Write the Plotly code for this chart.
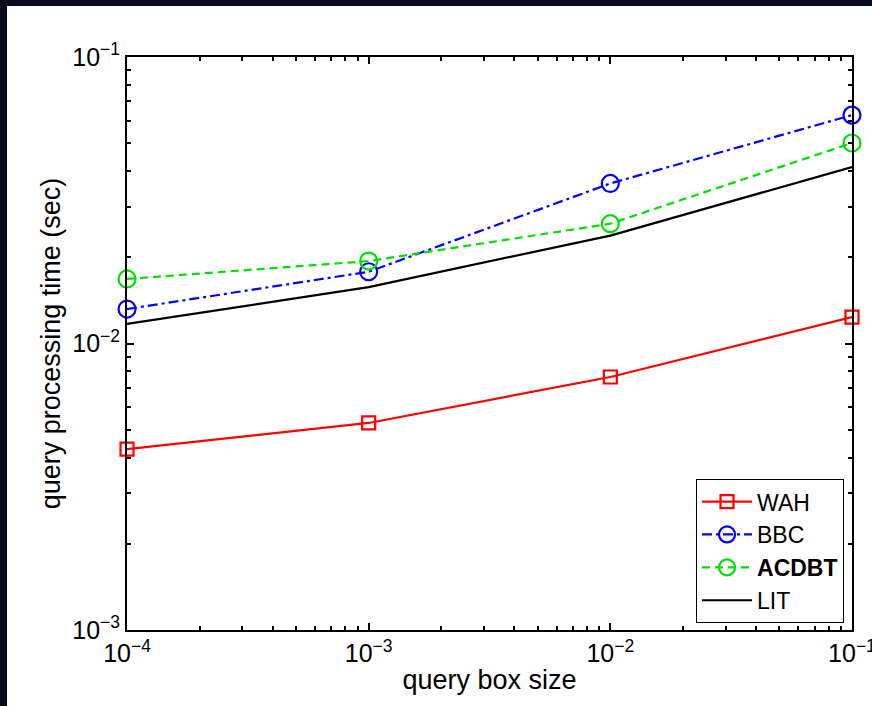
import plotly.graph_objects as go

box_size = [1e-4, 1e-3, 1e-2, 1e-1]
wah = [4.28e-3, 5.28e-3, 7.64e-3, 1.237e-2]
bbc = [1.319e-2, 1.78e-2, 3.62e-2, 6.27e-2]
acdbt = [1.68e-2, 1.94e-2, 2.62e-2, 5.01e-2]
lit = [1.17e-2, 1.574e-2, 2.38e-2, 4.13e-2]

x_tickvals = [1e-4, 1e-3, 1e-2, 1e-1]
x_ticktext = ["10<sup>−4</sup>", "10<sup>−3</sup>", "10<sup>−2</sup>", "10<sup>−1</sup>"]
y_tickvals = [1e-3, 1e-2, 1e-1]
y_ticktext = ["10<sup>−3</sup>", "10<sup>−2</sup>", "10<sup>−1</sup>"]

FONT = "Liberation Sans, Arial, sans-serif"

fig = go.Figure()
fig.add_trace(go.Scatter(x=box_size, y=wah, name="WAH", mode="lines+markers",
                         line=dict(color="#ff0000", width=2.2),
                         marker=dict(symbol="square-open", size=13, color="#ff0000",
                                     line=dict(width=2.2, color="#ff0000")),
                         cliponaxis=False))
fig.add_trace(go.Scatter(x=box_size, y=bbc, name="BBC", mode="lines+markers",
                         line=dict(color="#0000ff", width=2.2, dash="10px,4px,3px,4px"),
                         marker=dict(symbol="circle-open", size=17, color="#0000ff",
                                     line=dict(width=2.2, color="#0000ff")),
                         cliponaxis=False))
fig.add_trace(go.Scatter(x=box_size, y=acdbt, name="<b>ACDBT</b>", mode="lines+markers",
                         line=dict(color="#00e000", width=2.2, dash="8px,5px"),
                         marker=dict(symbol="circle-open", size=17, color="#00e000",
                                     line=dict(width=2.2, color="#00e000")),
                         cliponaxis=False))
fig.add_trace(go.Scatter(x=box_size, y=lit, name="LIT", mode="lines",
                         line=dict(color="#000000", width=2.2)))

axis_common = dict(type="log", showgrid=False, zeroline=False, automargin=False,
                   showline=True, linecolor="black", linewidth=2, mirror="allticks",
                   ticks="inside", ticklen=7, tickwidth=2, tickcolor="black",
                   ticklabeloverflow="allow",
                   tickfont=dict(family=FONT, size=25, color="black"),
                   minor=dict(ticks="inside", ticklen=4, tickwidth=1.5, tickcolor="black",
                              dtick="D1", showgrid=False))

fig.update_xaxes(**axis_common, range=[-4.0001, -0.9999], tickvals=x_tickvals, ticktext=x_ticktext,
                 title=dict(text="query box size", font=dict(family=FONT, size=27, color="black"),
                            standoff=4))
fig.update_yaxes(**axis_common, range=[-3.0001, -0.9999], tickvals=y_tickvals, ticktext=y_ticktext,
                 title=dict(text="query processing time (sec)",
                            font=dict(family=FONT, size=27, color="black"), standoff=4))

fig.add_shape(type="rect", xref="paper", yref="paper",
              x0=-0.1655, x1=1.03, y0=-0.14, y1=1.089,
              fillcolor="white", line=dict(width=0), layer="below")

fig.update_layout(
    width=872, height=706,
    margin=dict(l=127, r=20, t=57, b=76, autoexpand=False),
    paper_bgcolor="#0a0a1e", plot_bgcolor="white",
    font=dict(family=FONT, color="black"),
    legend=dict(x=0.989, y=0.012, xanchor="right", yanchor="bottom",
                bgcolor="white", bordercolor="black", borderwidth=1,
                font=dict(family=FONT, size=23, color="black"),
                tracegroupgap=0, itemwidth=50),
)

fig.write_html("out.html", config={"displayModeBar": False},
               post_script="document.body.style.margin='0';")
